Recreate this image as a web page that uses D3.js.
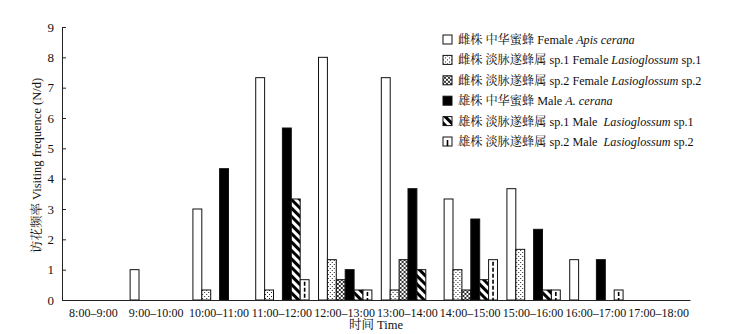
<!DOCTYPE html>
<html>
<head>
<meta charset="utf-8">
<script src="https://cdn.jsdelivr.net/npm/d3@7"></script>
<style>
  html, body { margin: 0; padding: 0; background: #fff; }
  svg { display: block; }
  text { font-family: "Liberation Serif", "Times New Roman", "Noto Serif CJK SC", "Noto Sans CJK SC", serif; fill: #111; }
</style>
</head>
<body>
<svg id="chart" width="736" height="334"></svg>
<script>
// ---- data ----
const categories = ["8:00–9:00", "9:00–10:00", "10:00–11:00", "11:00–12:00", "12:00–13:00",
                    "13:00–14:00", "14:00–15:00", "15:00–16:00", "16:00–17:00", "17:00–18:00"];
const seriesKeys = ["fApis", "fLas1", "fLas2", "mApis", "mLas1", "mLas2"];
const femaleApis = [0, 1.0, 3.0, 7.33, 8.0, 7.33, 3.33, 3.67, 1.33, 0];
const femaleLas1 = [0, 0, 0.33, 0.33, 1.33, 0.33, 1.0, 1.67, 0, 0];
const femaleLas2 = [0, 0, 0, 0, 0.67, 1.33, 0.33, 0, 0, 0];
const maleApis   = [0, 0, 4.33, 5.67, 1.0, 3.67, 2.67, 2.33, 1.33, 0];
const maleLas1   = [0, 0, 0, 3.33, 0.33, 1.0, 0.67, 0.33, 0, 0];
const maleLas2   = [0, 0, 0, 0.67, 0.33, 0, 1.33, 0.33, 0.33, 0];
const yTicks = [0, 1, 2, 3, 4, 5, 6, 7, 8, 9];
const legendLabels = [
  [["雌株 中华蜜蜂 Female ", false], ["Apis cerana", true]],
  [["雌株 淡脉遂蜂属 sp.1 Female ", false], ["Lasioglossum", true], [" sp.1", false]],
  [["雌株 淡脉遂蜂属 sp.2 Female ", false], ["Lasioglossum", true], [" sp.2", false]],
  [["雄株 中华蜜蜂 Male ", false], ["A. cerana", true]],
  [["雄株 淡脉遂蜂属 sp.1 Male \u00a0", false], ["Lasioglossum", true], [" sp.1", false]],
  [["雄株 淡脉遂蜂属 sp.2 Male \u00a0", false], ["Lasioglossum", true], [" sp.2", false]]
];
const yTitle = "访花频率 Visiting frequence (N/d)";
const xTitle = "时间 Time";

const seriesValues = [femaleApis, femaleLas1, femaleLas2, maleApis, maleLas1, maleLas2];
const table = categories.map((c, i) => {
  const row = { cat: c };
  seriesKeys.forEach((k, j) => row[k] = seriesValues[j][i]);
  return row;
});

// ---- setup ----
const svg = d3.select("#chart");
const margin = { left: 62, right: 46, top: 27, bottom: 34 };
const W = 736, H = 334;

const defs = svg.append("defs");
// dotted (female sp.1)
const p1 = defs.append("pattern").attr("id", "pDots").attr("patternUnits", "userSpaceOnUse")
  .attr("width", 4).attr("height", 4);
p1.append("rect").attr("width", 4).attr("height", 4).attr("fill", "#fff");
p1.append("rect").attr("x", 0).attr("y", 0).attr("width", 1).attr("height", 1).attr("fill", "#222");
p1.append("rect").attr("x", 2).attr("y", 2).attr("width", 1).attr("height", 1).attr("fill", "#222");
// dense cross (female sp.2)
const p2 = defs.append("pattern").attr("id", "pCross").attr("patternUnits", "userSpaceOnUse")
  .attr("width", 4).attr("height", 4);
p2.append("rect").attr("width", 4).attr("height", 4).attr("fill", "#fff");
p2.append("path").attr("d", "M0,0 L4,4 M4,0 L0,4").attr("stroke", "#333").attr("stroke-width", 1);
// diagonal stripes (male sp.1), "\" direction
const p3 = defs.append("pattern").attr("id", "pStripe").attr("patternUnits", "userSpaceOnUse")
  .attr("width", 6).attr("height", 6).attr("patternTransform", "rotate(-45)");
p3.append("rect").attr("width", 6).attr("height", 6).attr("fill", "#fff");
p3.append("rect").attr("x", 0).attr("y", 0).attr("width", 3).attr("height", 6).attr("fill", "#000");

const fills = { fApis: "#fff", fLas1: "url(#pDots)", fLas2: "url(#pCross)", mApis: "#000", mLas1: "url(#pStripe)", mLas2: "#fff" };

const x0 = d3.scaleBand().domain(categories).range([margin.left, W - margin.right]).padding(0);
const x1 = d3.scaleBand().domain(seriesKeys).range([0, x0.bandwidth()]).paddingInner(0).paddingOuter(0.53);
const y = d3.scaleLinear().domain([0, 9]).range([H - margin.bottom, margin.top]);

// ---- bars ----
const groups = svg.append("g").selectAll("g").data(table).join("g")
  .attr("transform", d => `translate(${x0(d.cat) + 0.6},0)`);

groups.selectAll("g.bar").data(d => seriesKeys.map(k => ({ key: k, value: d[k] })).filter(e => e.value > 0))
  .join("g").attr("class", "bar").each(function(d) {
    const g = d3.select(this);
    const bx = x1(d.key), bw = x1.bandwidth();
    const top = y(d.value), h = y(0) - y(d.value);
    g.append("rect").attr("x", bx).attr("y", top).attr("width", bw).attr("height", h)
      .attr("fill", fills[d.key]).attr("stroke", "#111").attr("stroke-width", 1);
    if (d.key === "mLas2") {
      g.append("line").attr("x1", bx + bw / 2).attr("x2", bx + bw / 2)
        .attr("y1", top + 2).attr("y2", y(0))
        .attr("stroke", "#000").attr("stroke-width", 1.6).attr("stroke-dasharray", "4,2");
    }
  });

// ---- axes ----
const yAxis = d3.axisLeft(y).tickValues(yTicks).tickSizeInner(-4).tickSizeOuter(0).tickPadding(8);
const gy = svg.append("g").attr("transform", `translate(${margin.left},0)`).call(yAxis);
gy.select(".domain").attr("stroke", "#222");
gy.selectAll(".tick line").attr("stroke", "#222");
gy.selectAll(".tick text").attr("font-size", 13).attr("fill", "#222")
  .style("font-family", "'Liberation Serif', serif");

const xAxis = d3.axisBottom(x0).tickSize(0).tickPadding(8);
const gx = svg.append("g").attr("transform", `translate(0,${y(0)})`).call(xAxis);
gx.select(".domain").attr("stroke", "#222");
gx.selectAll(".tick text").attr("font-size", 12).attr("fill", "#222")
  .style("font-family", "'Liberation Serif', serif");

// axis titles
svg.append("text").attr("transform", `translate(41,${(y(0) + y(9)) / 2 + 2}) rotate(-90)`)
  .attr("text-anchor", "middle").attr("font-size", 12.5).text(yTitle);
svg.append("text").attr("x", 376).attr("y", 329).attr("text-anchor", "middle")
  .attr("font-size", 12.5).text(xTitle);

// ---- legend ----
const legend = svg.append("g").attr("transform", "translate(443,35)");
legendLabels.forEach((parts, i) => {
  const key = seriesKeys[i];
  const g = legend.append("g").attr("transform", `translate(0,${i * 20.4})`);
  g.append("rect").attr("x", 0).attr("y", 0).attr("width", 9).attr("height", 9)
    .attr("fill", fills[key]).attr("stroke", "#111").attr("stroke-width", 1);
  if (key === "mLas2") {
    g.append("line").attr("x1", 4.5).attr("x2", 4.5).attr("y1", 3).attr("y2", 9)
      .attr("stroke", "#000").attr("stroke-width", 1.6);
  }
  const t = g.append("text").attr("x", 15).attr("y", 9).attr("font-size", 12.2);
  parts.forEach(([s, it]) => {
    t.append("tspan").text(s).attr("font-style", it ? "italic" : "normal");
  });
});
</script>
</body>
</html>
